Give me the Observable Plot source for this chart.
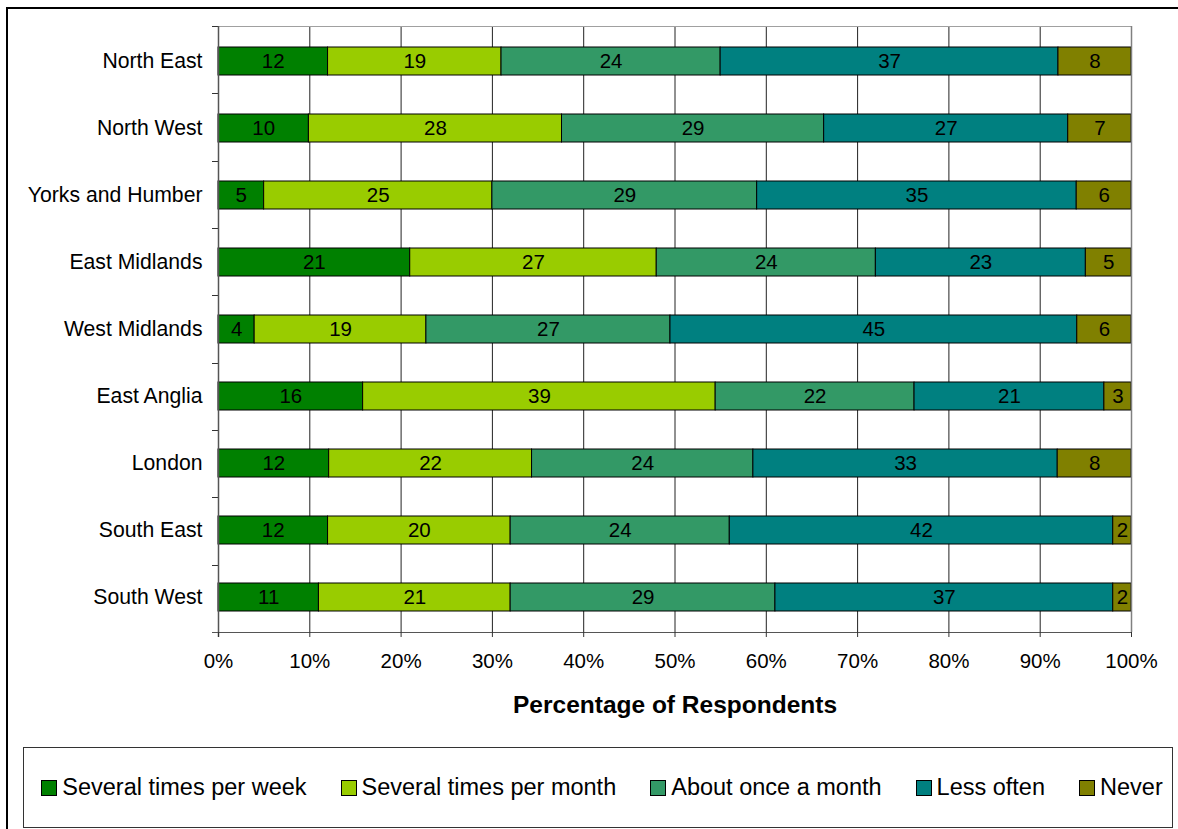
<!DOCTYPE html>
<html>
<head>
<meta charset="utf-8">
<script src="https://cdn.jsdelivr.net/npm/d3@7"></script>
<script src="https://cdn.jsdelivr.net/npm/@observablehq/plot@0.6"></script>
<style>
  html, body { margin: 0; padding: 0; overflow: hidden; background: #fff; }
  body { font-family: "Liberation Sans", Arial, sans-serif; width: 1178px; height: 829px; position: relative; }
  #frame { position: absolute; left: 6px; top: 7px; width: 1300px; height: 900px; border: 2px solid #000; box-sizing: border-box; }
  #chart { position: absolute; left: 0; top: 0; }
  #legend {
    position: absolute; left: 23px; top: 747px; width: 1150px; height: 81px;
    border: 1px solid #333; box-sizing: border-box; background: #fff;
    padding-left: 8px;
    display: flex; align-items: center; justify-content: center; gap: 34px;
    font-size: 23.5px; color: #000;
  }
  .item { display: flex; align-items: center; gap: 5px; white-space: nowrap; }
  .sw { width: 14px; height: 14px; border: 1.5px solid #000; }
</style>
</head>
<body>
<div id="frame"></div>
<div id="chart"></div>
<div id="legend"></div>
<script>
// Regions, top to bottom
const regions = ["North East", "North West", "Yorks and Humber", "East Midlands",
  "West Midlands", "East Anglia", "London", "South East", "South West"];

// Response categories and their colours
const responses = ["Several times per week", "Several times per month",
  "About once a month", "Less often", "Never"];
const colors = ["#008000", "#99CC00", "#339966", "#008080", "#808000"];

// Percentages for each response, one value per region (same order as regions)
const severalPerWeek  = [12, 10,  5, 21,  4, 16, 12, 12, 11];
const severalPerMonth = [19, 28, 25, 27, 19, 39, 22, 20, 21];
const onceAMonth      = [24, 29, 29, 24, 27, 22, 24, 24, 29];
const lessOften       = [37, 27, 35, 23, 45, 21, 33, 42, 37];
const never           = [ 8,  7,  6,  5,  6,  3,  8,  2,  2];

// Axis tick values
const xTicks = [0, 0.1, 0.2, 0.3, 0.4, 0.5, 0.6, 0.7, 0.8, 0.9, 1];

const seriesValues = [severalPerWeek, severalPerMonth, onceAMonth, lessOften, never];
const rows = [];
regions.forEach((region, i) => {
  responses.forEach((response, j) => {
    rows.push({region, response, value: seriesValues[j][i]});
  });
});

const font = '"Liberation Sans", Arial, sans-serif';

// Plot-area decorations: top/right border, category separator ticks, axis lines
function decorations(index, scales, values, dims) {
  const {width, height, marginTop, marginLeft, marginRight, marginBottom} = dims;
  const g = d3.create("svg:g");
  const x0 = marginLeft, x1 = width - marginRight;
  const y0 = marginTop, y1 = height - marginBottom;
  g.append("line").attr("x1", x0).attr("x2", x1).attr("y1", y0 + 0.5).attr("y2", y0 + 0.5)
    .attr("stroke", "#a0a0a0");
  g.append("line").attr("x1", x1 + 0.5).attr("x2", x1 + 0.5).attr("y1", y0).attr("y2", y1)
    .attr("stroke", "#808080").attr("stroke-width", 1.5);
  const n = regions.length;
  const step = (y1 - y0) / n;
  for (let i = 0; i <= n; i++) {
    const y = Math.round(y0 + i * step) + 0.5;
    g.append("line").attr("x1", x0 - 6).attr("x2", x0).attr("y1", y).attr("y2", y)
      .attr("stroke", "#333");
  }
  g.append("line").attr("x1", x0 - 6).attr("x2", x1).attr("y1", y1 + 0.5).attr("y2", y1 + 0.5)
    .attr("stroke", "#555");
  g.append("line").attr("x1", x0 + 0.5).attr("x2", x0 + 0.5).attr("y1", y0).attr("y2", y1 + 5)
    .attr("stroke", "#555").attr("stroke-width", 1.5);
  return g.node();
}

const chart = Plot.plot({
  width: 1178,
  height: 740,
  marginTop: 26,
  marginLeft: 218,
  marginRight: 47,
  marginBottom: 108,
  style: {fontFamily: font, fontSize: "20px", color: "#000", background: "transparent", overflow: "visible"},
  x: {domain: [0, 1], label: null},
  y: {domain: regions, paddingInner: 0.584, paddingOuter: 0.292, label: null},
  color: {domain: responses, range: colors},
  marks: [
    Plot.ruleX(xTicks.slice(1, -1), {stroke: "#222", strokeWidth: 1}),
    Plot.barX(rows, Plot.stackX({
      x: "value", y: "region", fill: "response",
      offset: "normalize", order: null,
      stroke: "#000", strokeWidth: 1
    })),
    Plot.text(rows, Plot.stackX({
      x: "value", y: "region", text: "value",
      offset: "normalize", order: null,
      fill: "#000", fontSize: 20.5, clip: true
    })),
    decorations,
    Plot.axisY({tickSize: 0, tickPadding: 16, fontSize: 21.2, label: null}),
    Plot.axisX(xTicks, {
      tickSize: 5, tickPadding: 16, fontSize: 20.5, label: null,
      tickFormat: d3.format(".0%"), stroke: "#333"
    }),
    Plot.text(["Percentage of Respondents"], {
      frameAnchor: "bottom", lineAnchor: "middle", dy: 73,
      fontWeight: "bold", fontSize: 24.5, fill: "#000"
    })
  ]
});
document.getElementById("chart").appendChild(chart);

// Legend below the chart
const legend = d3.select("#legend");
responses.forEach((r, i) => {
  const item = legend.append("div").attr("class", "item");
  item.append("div").attr("class", "sw").style("background", colors[i]);
  item.append("span").text(r);
});
</script>
</body>
</html>
